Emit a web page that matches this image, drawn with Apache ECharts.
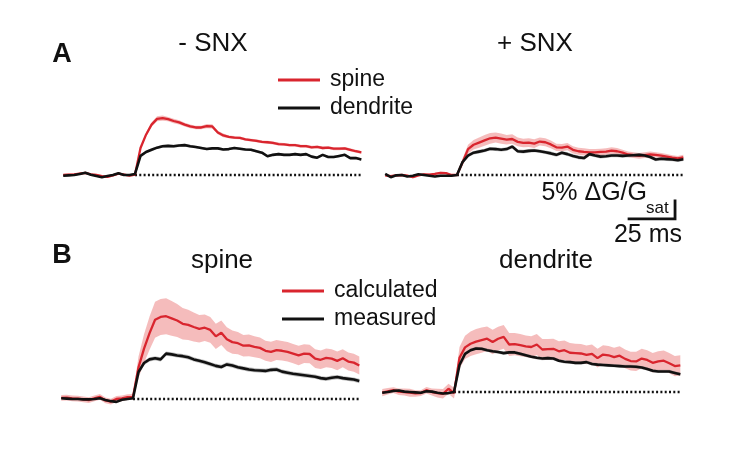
<!DOCTYPE html>
<html><head><meta charset="utf-8">
<script src="https://cdn.jsdelivr.net/npm/echarts@6/dist/echarts.min.js"></script>
<style>html,body{margin:0;background:#fff}#c{width:733px;height:459px}</style>
</head><body><div id="c"></div>
<script>
// ---- data (time in ms relative to stimulus onset, values in % ΔG/Gsat) ----
const timeMs = [-39,-36,-33,-30,-27,-24,-21,-18,-15,-12,-9,-6,-3,0,3,6,9,12,15,18,21,24,27,30,33,36,39,42,45,48,51,54,57,60,63,66,69,72,75,78,81,84,87,90,93,96,99,102,105,108,111,114,117,120,123];
const baselineSpan = [0, 123];

const spineA_minus = [0.0,0.1,0.2,0.4,0.6,0.2,0.0,-0.3,-0.5,-0.1,0.4,0.1,-0.2,0.1,
  7.5,11.2,14.0,15.6,15.8,15.5,15.0,14.6,14.0,13.5,
  13.2,13.2,13.6,13.5,11.8,11.0,10.6,10.4,10.3,9.9,
  9.7,9.5,9.2,9.1,8.9,8.6,8.5,8.3,8.3,8.0,
  8.0,7.7,7.8,7.5,7.6,7.3,7.3,7.4,7.0,6.6,
  6.3];
const semSpineA_minus = [0.3,0.3,0.3,0.3,0.3,0.3,0.3,0.3,0.3,0.3,0.3,0.3,0.3,0.3,
  0.5,0.6,0.6,0.7,0.7,0.6,0.6,0.6,0.5,0.5,
  0.5,0.5,0.6,0.6,0.5,0.5,0.4,0.4,0.4,0.4,
  0.4,0.4,0.4,0.4,0.4,0.4,0.4,0.4,0.4,0.4,
  0.4,0.4,0.4,0.4,0.4,0.4,0.4,0.4,0.4,0.4,
  0.4];
const dendA_minus = [-0.2,-0.1,0.0,0.3,0.6,0.1,-0.3,-0.6,-0.3,0.0,0.5,0.0,0.0,0.3,
  5.3,6.4,7.0,7.6,8.0,8.1,8.0,8.2,8.3,8.0,
  7.8,7.5,7.2,7.4,7.4,7.1,7.2,7.5,7.3,7.1,
  7.0,6.6,6.2,5.2,5.6,5.8,5.6,5.6,5.8,5.6,
  5.8,5.1,4.8,5.6,5.0,5.0,5.3,5.6,4.7,4.7,
  4.3];
const semDendA_minus = [0.2,0.2,0.2,0.2,0.2,0.2,0.2,0.2,0.2,0.2,0.2,0.2,0.2,0.2,
  0.4,0.4,0.4,0.4,0.4,0.4,0.4,0.4,0.4,0.4,
  0.35,0.35,0.35,0.35,0.35,0.35,0.35,0.35,0.35,0.35,
  0.35,0.35,0.35,0.35,0.35,0.35,0.35,0.35,0.35,0.35,
  0.35,0.35,0.35,0.35,0.35,0.35,0.35,0.35,0.35,0.35,
  0.35];

const spineA_plus = [-0.1,-0.3,-0.1,0.0,-0.2,-0.6,-0.1,0.2,0.1,0.3,0.6,0.5,0.0,0.0,
  3.5,7.2,8.4,9.0,9.6,10.2,10.4,10.1,9.8,10.0,
  9.2,8.9,9.0,8.7,9.3,9.1,8.5,7.7,7.6,7.9,
  7.0,6.6,6.4,6.3,6.3,6.4,6.5,6.8,6.6,6.2,
  5.7,5.5,5.3,5.5,5.7,5.6,5.4,5.1,4.8,4.6,
  4.9];
const semSpineA_plus = [0.3,0.3,0.3,0.3,0.3,0.3,0.3,0.3,0.3,0.3,0.3,0.3,0.3,0.3,
  1.0,1.2,1.3,1.4,1.5,1.5,1.4,1.4,1.3,1.3,
  1.2,1.2,1.2,1.2,1.1,1.1,1.1,1.0,1.0,1.0,
  1.0,1.0,1.0,0.9,0.9,0.9,0.9,0.9,0.9,0.8,
  0.8,0.8,0.8,0.8,0.8,0.7,0.7,0.7,0.7,0.7,
  0.7];
const dendA_plus = [0.3,-0.6,-0.1,0.0,-0.4,-0.2,0.2,0.0,-0.2,-0.4,-0.2,-0.2,-0.2,0.0,
  3.6,5.4,6.2,6.5,6.8,7.3,7.2,7.0,7.2,7.9,
  6.6,6.5,6.7,6.8,6.6,6.3,6.0,5.6,6.2,5.8,
  5.3,4.9,4.7,5.8,5.4,5.1,5.2,5.4,5.4,5.3,
  5.4,5.5,5.6,5.4,5.0,4.3,4.5,4.4,4.3,4.1,
  4.4];
const semDendA_plus = [0.2,0.2,0.2,0.2,0.2,0.2,0.2,0.2,0.2,0.2,0.2,0.2,0.2,0.2,
  0.5,0.5,0.5,0.5,0.5,0.5,0.5,0.5,0.5,0.5,
  0.5,0.5,0.5,0.5,0.5,0.5,0.5,0.5,0.5,0.5,
  0.5,0.5,0.5,0.5,0.5,0.5,0.5,0.5,0.5,0.5,
  0.5,0.5,0.5,0.5,0.5,0.5,0.5,0.5,0.5,0.5,
  0.5];

const spineB_calc = [0.3,0.4,0.2,0.1,-0.1,-0.3,0.2,0.6,-0.4,-0.7,0.0,0.2,0.5,0.6,
  8.8,14.0,18.3,22.0,22.8,23.0,22.4,21.8,20.9,20.6,
  20.0,19.5,19.8,19.2,17.4,18.4,16.6,15.8,15.5,14.8,
  14.9,14.5,14.2,13.4,13.1,13.6,13.4,13.1,12.6,12.1,
  12.6,12.5,11.2,10.9,11.4,11.2,10.6,11.3,10.4,10.1,
  9.3];
const semSpineB_calc = [0.8,0.8,0.8,0.8,0.8,0.8,0.8,0.8,0.8,0.8,0.8,0.8,0.8,0.8,
  3.0,4.0,4.6,5.0,5.0,5.0,4.8,4.6,4.4,4.2,
  4.0,3.8,3.7,3.6,3.5,3.4,3.3,3.2,3.1,3.0,
  3.0,2.9,2.9,2.8,2.8,2.8,2.7,2.7,2.7,2.7,
  2.6,2.6,2.6,2.6,2.6,2.6,2.6,2.5,2.5,2.5,
  2.5];
const spineB_meas = [0.2,0.1,0.0,0.0,-0.1,-0.1,0.0,0.2,-0.3,-0.6,-0.8,-0.2,0.0,0.2,
  7.5,10.0,11.0,11.3,11.0,12.6,12.4,12.1,11.9,11.6,
  11.0,10.6,10.2,9.7,9.2,8.9,9.6,9.3,8.8,8.5,
  8.2,8.0,7.9,7.8,8.1,8.2,7.6,7.3,7.0,6.8,
  6.6,6.4,6.2,5.8,5.6,5.9,6.1,5.8,5.6,5.4,
  5.0];
const semSpineB_meas = [0.3,0.3,0.3,0.3,0.3,0.3,0.3,0.3,0.3,0.3,0.3,0.3,0.3,0.3,
  0.6,0.6,0.6,0.6,0.6,0.6,0.6,0.6,0.6,0.6,
  0.6,0.6,0.6,0.6,0.6,0.6,0.6,0.6,0.6,0.6,
  0.6,0.6,0.6,0.6,0.6,0.6,0.6,0.6,0.6,0.6,
  0.6,0.6,0.6,0.6,0.6,0.6,0.6,0.6,0.6,0.6,
  0.6];

const dendB_calc = [-0.2,0.2,0.5,0.1,0.0,-0.2,-0.4,-0.3,0.5,0.0,-0.3,-0.5,0.9,-0.3,
  9.5,12.4,13.4,14.0,14.4,14.8,13.9,14.8,15.3,13.2,
  13.3,13.0,12.7,12.5,13.2,11.8,11.9,12.0,11.3,11.6,
  10.9,10.8,10.7,10.3,10.6,9.4,10.4,10.2,9.7,10.1,
  9.2,8.6,8.5,9.3,8.9,8.1,8.5,8.7,8.0,7.2,
  7.4];
const semDendB_calc = [1.0,0.9,0.8,0.9,1.0,1.1,0.9,0.8,0.9,1.0,1.2,1.3,1.4,1.5,
  3.0,3.2,3.4,3.5,3.5,3.4,3.4,3.3,3.3,3.2,
  3.1,3.1,3.0,3.0,2.9,2.9,2.8,2.8,2.8,2.7,
  2.7,2.6,2.6,2.6,2.6,2.6,2.6,2.6,2.6,2.6,
  2.6,2.6,2.7,2.7,2.7,2.7,2.8,2.8,2.8,2.8,
  2.8];
const dendB_meas = [-0.2,0.0,0.3,0.4,0.1,0.0,-0.1,-0.2,0.2,0.1,-0.2,-0.4,-0.3,0.0,
  7.5,10.6,11.6,12.1,12.0,11.6,11.3,11.1,10.8,11.0,
  11.0,10.6,10.2,9.8,9.5,9.3,9.4,9.3,8.7,8.4,
  8.3,8.1,8.1,8.3,7.8,7.6,7.5,7.4,7.3,7.2,
  7.1,7.1,7.0,6.8,6.4,5.9,5.7,5.7,5.7,5.3,
  4.9];
const semDendB_meas = [0.3,0.3,0.3,0.3,0.3,0.3,0.3,0.3,0.3,0.3,0.3,0.3,0.3,0.3,
  0.45,0.45,0.45,0.45,0.45,0.45,0.45,0.45,0.45,0.45,
  0.45,0.45,0.45,0.45,0.45,0.45,0.45,0.45,0.45,0.45,
  0.45,0.45,0.45,0.45,0.45,0.45,0.45,0.45,0.45,0.45,
  0.45,0.45,0.45,0.45,0.45,0.45,0.45,0.45,0.45,0.45,
  0.45];

const legendA = ['spine', 'dendrite'];
const legendB = ['calculated', 'measured'];
const scaleBarMs = 25;
const scaleBarPct = 5;

// ---- layout ----
const FONT = '"Liberation Sans", Arial, Helvetica, sans-serif';
const RED = '#d9252e', BLACK = '#111111';
const RED_BAND = 'rgba(232,95,95,0.42)', GREY_BAND = 'rgba(110,110,110,0.42)';
const pxPerMs = 1.84, pxPerPct = 3.6;
const tMin = -42, tMax = 127, yMin = -14, yMax = 26;

const panels = [
  {names: legendA, red: spineA_minus, redSem: semSpineA_minus, black: dendA_minus, blackSem: semDendA_minus, onsetX: 135, baseY: 175},
  {names: legendA, red: spineA_plus, redSem: semSpineA_plus, black: dendA_plus, blackSem: semDendA_plus, onsetX: 457, baseY: 175},
  {names: legendB, red: spineB_calc, redSem: semSpineB_calc, black: spineB_meas, blackSem: semSpineB_meas, onsetX: 133, baseY: 399},
  {names: legendB, red: dendB_calc, redSem: semDendB_calc, black: dendB_meas, blackSem: semDendB_meas, onsetX: 454, baseY: 392}
];

const grids = [], xAxes = [], yAxes = [], series = [];
function band(gi, mean, sem, fill, z) {
  return {
    type: 'custom', coordinateSystem: 'cartesian2d', xAxisIndex: gi, yAxisIndex: gi,
    silent: true, z: z, data: [[timeMs[0], mean[0]]],
    renderItem: function (params, api) {
      const up = timeMs.map((t, i) => api.coord([t, mean[i] + sem[i]]));
      const lo = timeMs.map((t, i) => api.coord([t, mean[i] - sem[i]])).reverse();
      return {type: 'polygon', shape: {points: up.concat(lo)}, style: {fill: fill}};
    }
  };
}
panels.forEach((p, gi) => {
  grids.push({
    left: p.onsetX + tMin * pxPerMs,
    top: p.baseY - yMax * pxPerPct,
    width: (tMax - tMin) * pxPerMs,
    height: (yMax - yMin) * pxPerPct
  });
  xAxes.push({gridIndex: gi, type: 'value', min: tMin, max: tMax, show: false});
  yAxes.push({gridIndex: gi, type: 'value', min: yMin, max: yMax, show: false});
  series.push(band(gi, p.red, p.redSem, RED_BAND, 1));
  series.push(band(gi, p.black, p.blackSem, GREY_BAND, 2));
  series.push({
    type: 'line', xAxisIndex: gi, yAxisIndex: gi, silent: true, z: 3,
    data: baselineSpan.map(t => [t, 0]), showSymbol: false,
    lineStyle: {color: BLACK, width: 2.4, type: [2, 2.3]}
  });
  series.push({
    type: 'line', name: p.names[0], xAxisIndex: gi, yAxisIndex: gi, z: 4,
    data: timeMs.map((t, i) => [t, p.red[i]]), showSymbol: false, color: RED,
    lineStyle: {color: RED, width: 2.3}
  });
  series.push({
    type: 'line', name: p.names[1], xAxisIndex: gi, yAxisIndex: gi, z: 5,
    data: timeMs.map((t, i) => [t, p.black[i]]), showSymbol: false, color: BLACK,
    lineStyle: {color: BLACK, width: 2.6}
  });
});
// scale bar, drawn in the "+ SNX" panel's coordinates
const sbT = 118.5, sbV = -12.2;
series.push({
  type: 'line', xAxisIndex: 1, yAxisIndex: 1, silent: true, z: 6, showSymbol: false,
  data: [[sbT - scaleBarMs, sbV], [sbT, sbV], [sbT, sbV + scaleBarPct]],
  lineStyle: {color: BLACK, width: 2.8, cap: 'square', join: 'miter'}
});

function txt(text, x, y, size, opts) {
  opts = opts || {};
  return {
    type: 'text', x: x, y: y, silent: true, z: 100,
    style: {
      text: text, fill: '#111111', fontFamily: FONT, fontSize: size,
      fontWeight: opts.bold ? 'bold' : 'normal',
      textAlign: opts.align || 'center', textVerticalAlign: 'middle'
    }
  };
}
const legendCommon = {
  orient: 'vertical', icon: 'rect', itemWidth: 42, itemHeight: 2.8, itemGap: 2,
  selectedMode: false,
  textStyle: {fontFamily: FONT, fontSize: 23, color: '#111111', lineHeight: 26, padding: [0, 0, 0, 5]}
};

const option = {
  backgroundColor: '#ffffff',
  animation: false,
  grid: grids, xAxis: xAxes, yAxis: yAxes, series: series,
  legend: [
    Object.assign({data: legendA, left: 273, top: 62, padding: 5}, legendCommon),
    Object.assign({data: legendB, left: 277, top: 273, padding: 5}, legendCommon)
  ],
  graphic: [
    txt('A', 62, 55, 27, {bold: true}),
    txt('B', 62, 256, 27, {bold: true}),
    txt('- SNX', 213, 44, 26),
    txt('+ SNX', 535, 44, 26),
    txt('spine', 222, 261, 26),
    txt('dendrite', 546, 261, 26),
    txt('5% ΔG/G', 647, 193, 25, {align: 'right'}),
    txt('sat', 646, 208, 17, {align: 'left'}),
    txt('25 ms', 648, 235, 25)
  ]
};
echarts.init(document.getElementById('c')).setOption(option);
</script>
</body></html>
